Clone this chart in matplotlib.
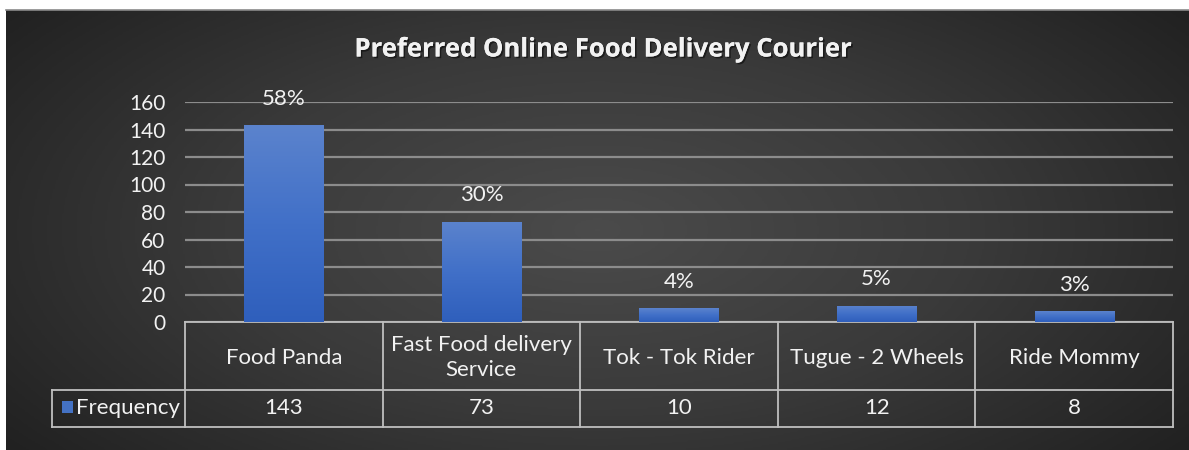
import numpy as np
import matplotlib
matplotlib.use("Agg")
import matplotlib.pyplot as plt
import matplotlib.transforms as mtransforms
import matplotlib.patheffects as pe
from matplotlib.colors import LinearSegmentedColormap

# ---- data ----
categories = ["Food Panda", "Fast Food delivery\nService", "Tok - Tok Rider",
              "Tugue - 2 Wheels", "Ride Mommy"]
frequency = [143, 73, 10, 12, 8]
percent_labels = ["58%", "30%", "4%", "5%", "3%"]
series_name = "Frequency"
title = "Preferred Online Food Delivery Courier"
yticks = [0, 20, 40, 60, 80, 100, 120, 140, 160]

W, H = 1189, 450
fig = plt.figure(figsize=(W / 100, H / 100), dpi=100)
fig.patch.set_facecolor("white")
FONT = "Lato"
TXT = "#f2f2f2"
FS = 16

# ---- background (radial dark gradient) ----
bg = fig.add_axes([6 / W, 0, 1 - 6 / W, 440 / H], zorder=-10)
yy, xx = np.mgrid[-1:1:300j, -1:1:800j]
r = np.sqrt((xx / 1.0) ** 2 + (yy / 1.3) ** 2)
r = np.clip(r / np.sqrt(1 + 1 / 1.69), 0, 1)
bg_cmap = LinearSegmentedColormap.from_list("bg", ["#4b4b4b", "#3a3a3a", "#212121"])
bg.imshow(r, cmap=bg_cmap, aspect="auto", extent=[0, 1, 0, 1], vmin=0, vmax=1)
bg.plot([0, 1], [1, 1], color="#8a8a8a", lw=1.2, transform=bg.transAxes, clip_on=False)
bg.set_axis_off()

# ---- main axes ----
x0, x1 = 185 / W, 1173 / W
yb, yt = (H - 322) / H, (H - 102) / H
ax = fig.add_axes([x0, yb, x1 - x0, yt - yb])
ax.set_facecolor("none")
xpos = np.arange(len(categories))
ax.set_yticks(yticks)
ax.set_yticklabels([str(v) for v in yticks], fontsize=15, color=TXT, family=FONT)
ax.tick_params(axis="y", length=0, pad=14)
ax.tick_params(axis="x", length=0, labelbottom=False)
for s in ax.spines.values():
    s.set_visible(False)
ax.grid(axis="y", color="#8c8c8c", lw=1.6, zorder=0)
ax.set_axisbelow(True)

bars = ax.bar(xpos, frequency, width=0.4, color="#4472c4", zorder=2)
grad = np.linspace(0, 1, 256).reshape(-1, 1)
bar_cmap = LinearSegmentedColormap.from_list("bar", ["#2f5fbc", "#4170c8", "#5b83cd"])
for b in bars:
    bx, by, bw, bh = b.get_x(), b.get_y(), b.get_width(), b.get_height()
    im = ax.imshow(grad, cmap=bar_cmap, origin="lower", aspect="auto",
                   extent=[bx, bx + bw, by, by + bh], zorder=3)
    im.set_clip_path(b)
ax.set_xlim(-0.5, len(categories) - 0.5)
ax.set_ylim(0, 160)

for xi, v, lab in zip(xpos, frequency, percent_labels):
    ax.annotate(lab, (xi, v), xytext=(0, 19), textcoords="offset points",
                ha="center", va="center", fontsize=FS, color=TXT, family=FONT)

# ---- data table ----
def fig_y(px):
    return (H - px) / H

tr = mtransforms.blended_transform_factory(ax.transData, fig.transFigure)
trf = fig.transFigure
line_kw = dict(color="#bfbfbf", lw=1.3, clip_on=False)
n = len(categories)
top_px, mid_px, bot_px = 322, 390, 427
legend_left = 52 / W

ax.plot([-0.5, n - 0.5], [fig_y(top_px)] * 2, transform=tr, **line_kw)
for ypx in (mid_px, bot_px):
    fig.add_artist(plt.Line2D([legend_left, x1], [fig_y(ypx)] * 2, transform=trf, **line_kw))
for b in np.arange(n + 1) - 0.5:
    ax.plot([b, b], [fig_y(top_px), fig_y(bot_px)], transform=tr, **line_kw)
fig.add_artist(plt.Line2D([legend_left, legend_left], [fig_y(mid_px), fig_y(bot_px)],
                          transform=trf, **line_kw))

for xi, cat, v in zip(xpos, categories, frequency):
    ax.text(xi, fig_y(357.5), cat, transform=tr, ha="center", va="center",
            fontsize=FS, color=TXT, family=FONT, linespacing=1.3)
    ax.text(xi, fig_y(408), str(v), transform=tr, ha="center", va="center",
            fontsize=FS, color=TXT, family=FONT)

fig.add_artist(plt.Rectangle((62 / W, fig_y(413)), 11 / W, 12 / H, transform=trf,
                             facecolor="#4472c4", edgecolor="none"))
fig.text(76 / W, fig_y(408), series_name, ha="left", va="center",
         fontsize=FS, color=TXT, family=FONT)

# ---- title ----
fig.text(604 / W, fig_y(49), title, ha="center", va="center", fontsize=18.5,
         fontweight="bold", color="#f2f2f2", family="Open Sans",
         path_effects=[pe.withSimplePatchShadow(offset=(1.2, -1.2), alpha=0.5,
                                                 shadow_rgbFace="black"), pe.Normal()])

fig.savefig("out.png", dpi=100, facecolor=fig.get_facecolor())
